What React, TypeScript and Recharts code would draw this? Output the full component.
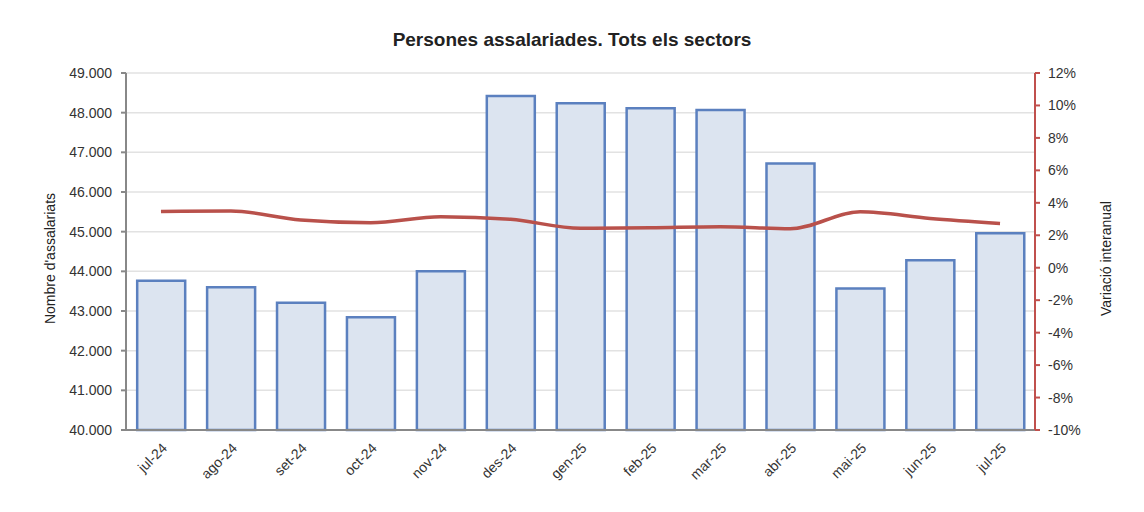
import React from 'react';
import { ComposedChart, Bar, Line, XAxis, YAxis, CartesianGrid } from 'recharts';

const months = ['jul-24', 'ago-24', 'set-24', 'oct-24', 'nov-24', 'des-24', 'gen-25', 'feb-25', 'mar-25', 'abr-25', 'mai-25', 'jun-25', 'jul-25'];
const employees = [43760, 43600, 43210, 42840, 44000, 48420, 48235, 48110, 48065, 46720, 43570, 44280, 44960];
const yoyChange = [3.47, 3.5, 2.94, 2.77, 3.14, 2.98, 2.43, 2.46, 2.53, 2.4, 3.45, 3.04, 2.73];
const leftTicks = [40000, 41000, 42000, 43000, 44000, 45000, 46000, 47000, 48000, 49000];
const rightTicks = [-10, -8, -6, -4, -2, 0, 2, 4, 6, 8, 10, 12];
const boundaryTicks = [0, 1, 2, 3, 4, 5, 6, 7, 8, 9, 10, 11, 12, 13];

const data = months.map((m, i) => ({ month: m, employees: employees[i], yoy: yoyChange[i] }));

const font = '"Liberation Sans", Arial, sans-serif';
const tickStyle = { fill: '#333', fontSize: 14, fontFamily: font };
const labelStyle = { fill: '#222', fontSize: 14, fontFamily: font };

// 49000 -> "49.000"
const fmtLeft = (v: number) => {
  const s = String(v);
  return s.slice(0, s.length - 3) + '.' + s.slice(-3);
};

export default function App() {
  return (
    <div style={{ position: 'absolute', left: 0, top: 0, width: 1144, height: 512, background: '#fff', fontFamily: font }}>
      <div style={{ position: 'absolute', top: 29, width: 1144, textAlign: 'center', fontSize: 19, fontWeight: 'bold', color: '#222' }}>
        Persones assalariades. Tots els sectors
      </div>
      <ComposedChart
        width={1144}
        height={512}
        data={data}
        margin={{ top: 73, right: 0, left: 0, bottom: 12 }}
        barCategoryGap="16%"
      >
        <CartesianGrid yAxisId="left" vertical={false} stroke="#e2e2e2" strokeWidth={1.5} />
        {/* tick marks between categories */}
        <XAxis
          xAxisId="bounds"
          type="number"
          domain={[0, 13]}
          ticks={boundaryTicks}
          height={0}
          tick={false}
          tickSize={5}
          axisLine={false}
          tickLine={{ stroke: '#888', strokeWidth: 2 }}
        />
        <XAxis
          dataKey="month"
          height={70}
          interval={0}
          angle={-45}
          textAnchor="end"
          tick={tickStyle}
          tickLine={false}
          tickMargin={6}
          axisLine={{ stroke: '#888', strokeWidth: 2 }}
        />
        <YAxis
          yAxisId="left"
          width={126}
          domain={[40000, 49000]}
          ticks={leftTicks}
          interval={0}
          tickFormatter={fmtLeft}
          tick={tickStyle}
          tickSize={5}
          tickMargin={9}
          axisLine={{ stroke: '#888', strokeWidth: 2 }}
          tickLine={{ stroke: '#888', strokeWidth: 2 }}
          label={{ value: "Nombre d'assalariats", angle: -90, position: 'center', dx: -13, dy: 7, style: labelStyle }}
        />
        <YAxis
          yAxisId="right"
          orientation="right"
          width={109}
          domain={[-10, 12]}
          ticks={rightTicks}
          interval={0}
          tickFormatter={(v: number) => `${v}%`}
          tick={tickStyle}
          tickSize={5}
          tickMargin={8}
          axisLine={{ stroke: '#c0504d', strokeWidth: 2 }}
          tickLine={{ stroke: '#c0504d', strokeWidth: 2 }}
          label={{ value: 'Variació interanual', angle: -90, position: 'center', dx: 17, dy: 7, style: labelStyle }}
        />
        <Bar yAxisId="left" dataKey="employees" fill="#dce4f0" stroke="#5b80bf" strokeWidth={2.5} isAnimationActive={false} />
        <Line
          yAxisId="right"
          type="monotone"
          dataKey="yoy"
          stroke="#b9514b"
          strokeWidth={3.5}
          dot={false}
          isAnimationActive={false}
        />
      </ComposedChart>
    </div>
  );
}
